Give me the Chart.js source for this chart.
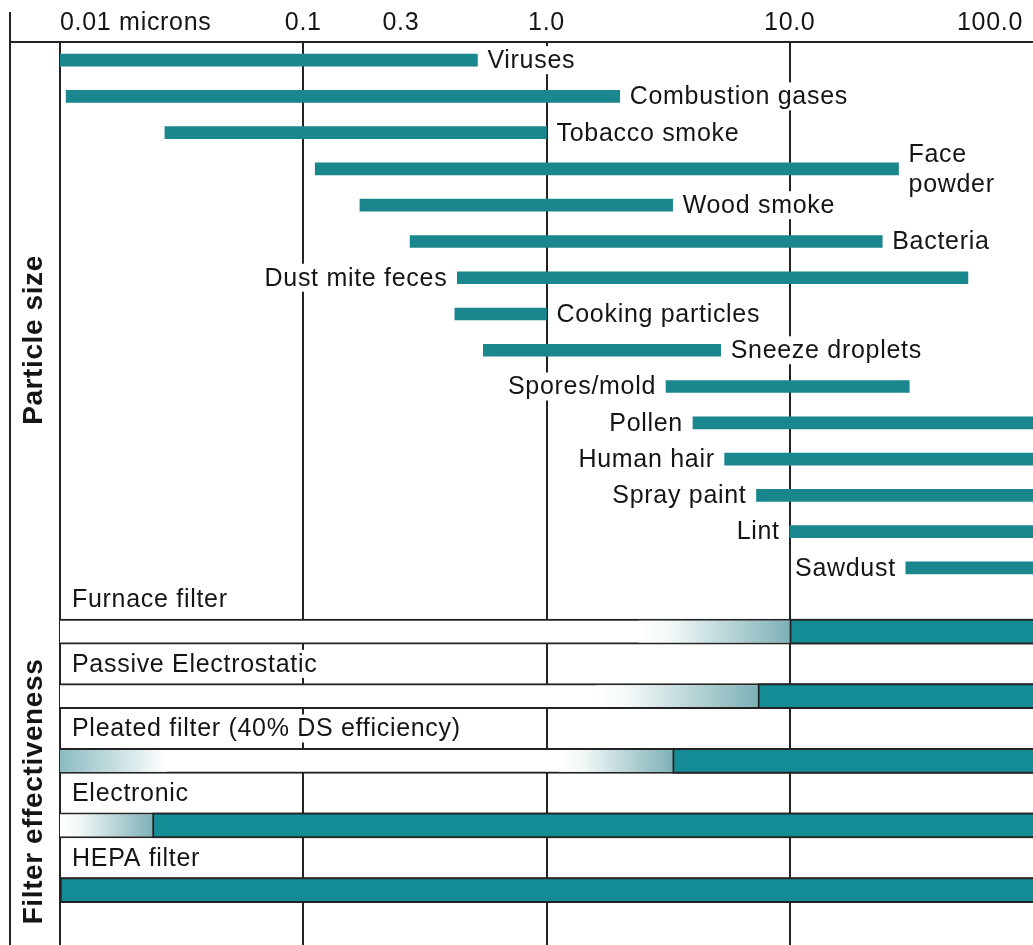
<!DOCTYPE html>
<html><head><meta charset="utf-8">
<script src="https://cdn.jsdelivr.net/npm/chart.js@4.4.1/dist/chart.umd.min.js"></script>
<style>html,body{margin:0;padding:0;background:#fff}#wrap{width:1033px;height:945px;position:relative}</style>
</head><body><div id="wrap"><canvas id="c"></canvas></div>
<script>
// ---------- data ----------
const particleNames = ['Viruses', 'Combustion gases', 'Tobacco smoke', ['Face', 'powder'], 'Wood smoke', 'Bacteria',
  'Dust mite feces', 'Cooking particles', 'Sneeze droplets', 'Spores/mold', 'Pollen', 'Human hair', 'Spray paint', 'Lint', 'Sawdust'];
const sizeMin = [0.01, 0.0106, 0.027, 0.112, 0.171, 0.275, 0.43, 0.42, 0.55, 3.1, 4.0, 5.4, 7.3, 10, 30];
const sizeMax = [0.52, 2.0, 1.0, 28, 3.3, 24, 54, 1.0, 5.2, 31, 100, 100, 100, 100, 100];

const tickValues = [0.01, 0.1, 0.3, 1, 10, 100];
const tickLabels = ['0.01 microns', '0.1', '0.3', '1.0', '10.0', '100.0'];

const filterNames = ['Furnace filter', 'Passive Electrostatic', 'Pleated filter (40% DS efficiency)', 'Electronic', 'HEPA filter'];
const filterFullFrom = [10, 7.4, 3.3, 0.024, 0.01];      // fully effective from this size up
const filterPartialFrom = [2.4, 1.6, 1.13, 0.01, null];   // partially effective (fading) up to full
const filterLowPartialTo = [null, null, 0.0275, null, null]; // partial effect at the very small end

const sectionTitles = ['Particle size', 'Filter effectiveness'];
const xMin = 0.01, xMax = 100;

// ---------- style ----------
const FONT = '"Liberation Sans", Arial, Helvetica, sans-serif';
const STYLE = {
  teal: '#1a868d', tealFilter: '#138c96', fadeEnd: '#7db1b7', fadeLow: '#8bbbc0',
  line: '#232323', text: '#151515',
  tickAlign: ['left', 'center', 'right', 'center', 'center', 'right']
};
const GAP = 10;

function fade(context, reverse) {
  const chart = context.chart;
  const raw = context.raw;
  if (!chart.chartArea || !raw) return STYLE.fadeEnd;
  const xs = chart.scales.x;
  const a = xs.getPixelForValue(raw.x[0]), b = xs.getPixelForValue(raw.x[1]);
  const g = chart.ctx.createLinearGradient(a, 0, b, 0);
  if (reverse) {
    g.addColorStop(0, STYLE.fadeLow);
    g.addColorStop(1, 'rgba(255,255,255,1)');
  } else {
    g.addColorStop(0, 'rgba(255,255,255,1)');
    g.addColorStop(0.2, '#f3f8f8');
    g.addColorStop(1, STYLE.fadeEnd);
  }
  return g;
}

function rows(fromArr, toFn) {
  const out = [];
  filterNames.forEach((_, i) => {
    if (fromArr[i] == null) return;
    out.push({ y: 2 * i + 1, x: [fromArr[i], toFn(i)] });
  });
  return out;
}

function box(ctx, text, lx, ly) {
  const w = ctx.measureText(text).width;
  ctx.fillStyle = '#fff';
  ctx.fillRect(lx - 3, ly - 14, w + 6, 28);
  ctx.fillStyle = STYLE.text;
  ctx.textAlign = 'left';
  ctx.fillText(text, lx, ly + 1);
}

const annotations = {
  id: 'annotations',
  afterDatasetsDraw(chart) {
    const { ctx, chartArea: ca, scales: { x, yP, yF } } = chart;
    ctx.save();
    ctx.strokeStyle = STYLE.line; ctx.lineWidth = 2;
    ctx.beginPath();
    ctx.moveTo(ca.left - 50, ca.top - 30); ctx.lineTo(ca.left - 50, ca.bottom);
    ctx.moveTo(ca.left - 50, ca.top); ctx.lineTo(ca.right, ca.top);
    ctx.stroke();

    ctx.font = `25px ${FONT}`;
    ctx.textBaseline = 'middle';
    if ('letterSpacing' in ctx) ctx.letterSpacing = '0.7px';
    ctx.fillStyle = STYLE.text;
    tickValues.forEach((v, i) => {
      let px = x.getPixelForValue(v);
      const align = STYLE.tickAlign[i];
      if (align === 'right' && px > ca.right - 10) px = ca.right - 10;
      ctx.textAlign = align;
      ctx.fillText(tickLabels[i], px, ca.top - 19);
    });

    particleNames.forEach((name, i) => {
      const lines = Array.isArray(name) ? name : [name];
      const cy = yP.getPixelForValue(i);
      const x0 = x.getPixelForValue(sizeMin[i]), x1 = x.getPixelForValue(sizeMax[i]);
      const w = Math.max(...lines.map(l => ctx.measureText(l).width));
      const right = x1 + GAP + w <= ca.right - 2;
      const lx = right ? x1 + GAP : x0 - GAP - w;
      lines.forEach((l, k) => box(ctx, l, lx, cy + (k - (lines.length - 1) / 2) * 30));
    });

    filterNames.forEach((n, i) => box(ctx, n, ca.left + 12, yF.getPixelForValue(2 * i)));

    ctx.font = `bold 28px ${FONT}`;
    if ('letterSpacing' in ctx) ctx.letterSpacing = '0.6px';
    ctx.textAlign = 'center';
    ctx.fillStyle = STYLE.text;
    [yP, yF].forEach((s, i) => {
      ctx.save();
      ctx.translate(ca.left - 26, (s.top + s.bottom) / 2 + 26);
      ctx.rotate(-Math.PI / 2);
      ctx.fillText(sectionTitles[i], 0, 0);
      ctx.restore();
    });
    ctx.restore();
  }
};

new Chart(document.getElementById('c'), {
  type: 'bar',
  data: {
    labels: particleNames,
    datasets: [
      {
        label: 'Particle size (microns)',
        data: particleNames.map((_, i) => [sizeMin[i], sizeMax[i]]),
        yAxisID: 'yP', backgroundColor: STYLE.teal, barThickness: 12, grouped: false, order: 1,
        borderWidth: 0
      },
      {
        label: 'Fully effective',
        data: rows(filterFullFrom, () => xMax),
        yAxisID: 'yF', backgroundColor: STYLE.tealFilter, borderColor: STYLE.line,
        borderWidth: { top: 2, bottom: 2, left: 2, right: 0 },
        borderSkipped: false, barThickness: 25, grouped: false, order: 2
      },
      {
        label: 'Partially effective',
        data: rows(filterPartialFrom, i => filterFullFrom[i]),
        yAxisID: 'yF', backgroundColor: c => fade(c, false), borderWidth: 0,
        barThickness: 21, grouped: false, order: 3
      },
      {
        label: 'Partially effective (smallest sizes)',
        data: rows(filterLowPartialTo.map(v => v == null ? null : xMin), i => filterLowPartialTo[i]),
        yAxisID: 'yF', backgroundColor: c => fade(c, true), borderWidth: 0,
        barThickness: 21, grouped: false, order: 3
      },
      {
        label: 'Filter band',
        data: rows(filterNames.map(() => xMin), () => xMax),
        yAxisID: 'yF', backgroundColor: '#ffffff', borderColor: STYLE.line,
        borderWidth: { top: 2, bottom: 2, left: 0, right: 0 }, borderSkipped: false,
        barThickness: 25, grouped: false, order: 5
      }
    ]
  },
  options: {
    indexAxis: 'y',
    responsive: true, maintainAspectRatio: false, animation: false,
    layout: { padding: { left: 60, top: 42, right: 0, bottom: 0 } },
    plugins: { legend: { display: false }, tooltip: { enabled: false } },
    scales: {
      x: {
        type: 'logarithmic', position: 'top', min: xMin, max: xMax,
        afterBuildTicks: s => { s.ticks = tickValues.map(v => ({ value: v })); },
        ticks: { display: false, callback: (v, i) => tickLabels[i] },
        border: { display: false },
        grid: {
          drawTicks: false, lineWidth: 2,
          color: c => {
            const v = c.tick ? c.tick.value : 0;
            const lg = Math.log10(v);
            return (Math.abs(lg - Math.round(lg)) < 1e-9 && v < xMax) ? STYLE.line : 'rgba(0,0,0,0)';
          }
        }
      },
      // left-stacked axes are laid out outer-to-inner in reverse order, so the lower block is listed first
      yF: { type: 'linear', position: 'left', stack: 'rows', stackWeight: 359, display: false, min: -0.41, max: 10.7, reverse: true, offset: false },
      yP: { type: 'category', labels: particleNames, position: 'left', stack: 'rows', stackWeight: 544, display: false, offset: true }
    }
  },
  plugins: [annotations]
});
</script>
</body></html>
